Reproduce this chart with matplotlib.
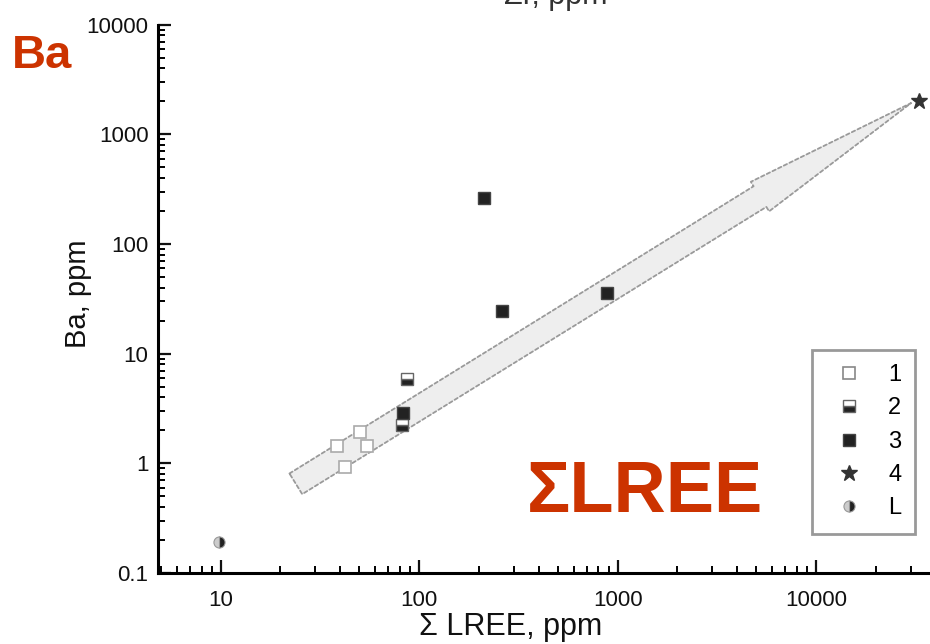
import numpy as np
import matplotlib
matplotlib.use("Agg")
import matplotlib.pyplot as plt
from matplotlib.lines import Line2D
from matplotlib.ticker import FuncFormatter, FixedLocator

plt.rcParams['font.family'] = ['Liberation Sans', 'DejaVu Sans']

# --- data ---
g1_lree = [38.5, 50.2, 54.5, 42.3]
g1_ba = [1.45, 1.95, 1.45, 0.93]

g2_lree = [86.8, 81.7]
g2_ba = [5.9, 2.25]

g3_lree = [82.6, 211, 260, 879]
g3_ba = [2.9, 262, 24.5, 36]

g4_lree = [33000]
g4_ba = [2000]

gL_lree = [9.8]
gL_ba = [0.19]

arrow_tail = (23.9, 0.65)
arrow_tip = (30100, 1930)

x_ticks = [10, 100, 1000, 10000]
y_ticks = [0.1, 1, 10, 100, 1000, 10000]
legend_labels = ['1', '2', '3', '4', 'L']
red = '#CC3300'

fig = plt.figure(figsize=(9.3, 6.44), dpi=100)
ax = fig.add_axes([0.170, 0.1103, 0.921, 0.8514])
ax.set_xscale('log')
ax.set_yscale('log')
ax.set_xlim(4.835, 10 ** 5.0)
ax.set_ylim(0.1, 10000)

# trend arrow
ax.annotate('', xy=arrow_tip, xytext=arrow_tail,
            arrowprops=dict(arrowstyle='simple,head_length=12.8,head_width=2.5,tail_width=1.75',
                            mutation_scale=10, fc='#eeeeee', ec='#9a9a9a',
                            ls=(0, (2, 1.5)), lw=1.3, shrinkA=0, shrinkB=0),
            zorder=1)

ms = 9
ax.plot(g1_lree, g1_ba, 's', ms=ms, mfc='white', mec='#aaaaaa', mew=1.2, zorder=3)
ax.plot(g2_lree, g2_ba, 's', ms=ms, fillstyle='bottom', mfc='#222222',
        mfcalt='white', mec='#666666', mew=1, zorder=3)
ax.plot(g3_lree, g3_ba, 's', ms=ms, mfc='#222222', mec='#444444', mew=1, zorder=3)
ax.plot(g4_lree, g4_ba, '*', ms=12, color='#333333', zorder=3)
ax.plot(gL_lree, gL_ba, 'o', ms=8, fillstyle='right', mfc='#222222',
        mfcalt='#cccccc', mec='#999999', mew=0.8, zorder=3)

# axes styling
for s in ['top', 'right']:
    ax.spines[s].set_visible(False)
for s in ['left', 'bottom']:
    ax.spines[s].set_linewidth(2.2)
ax.xaxis.set_major_locator(FixedLocator(x_ticks))
ax.yaxis.set_major_locator(FixedLocator(y_ticks))
ax.tick_params(which='major', direction='in', length=9.5, width=1.6,
               labelsize=16, colors='#111111')
ax.tick_params(which='minor', direction='in', length=5, width=1.4)
ax.tick_params(axis='x', which='major', pad=12)
ax.tick_params(axis='y', which='major', pad=7)
fmt = FuncFormatter(lambda v, p: f'{v:g}')
ax.xaxis.set_major_formatter(fmt)
ax.yaxis.set_major_formatter(fmt)

ax.set_xlabel('Σ LREE, ppm', fontsize=22, color='#111111')
ax.xaxis.set_label_coords(0.411, -0.072)
ax.set_ylabel('Ba, ppm', fontsize=21, color='#111111')
ax.yaxis.set_label_coords(-0.077, 0.509)

# legend
handles = [
    Line2D([], [], ls='none', marker='s', ms=9, mfc='white', mec='#888888', mew=1.2),
    Line2D([], [], ls='none', marker='s', ms=9, fillstyle='bottom', mfc='#222222',
           mfcalt='white', mec='#666666', mew=1),
    Line2D([], [], ls='none', marker='s', ms=9, mfc='#222222', mec='#444444'),
    Line2D([], [], ls='none', marker='*', ms=12, color='#333333'),
    Line2D([], [], ls='none', marker='o', ms=8, fillstyle='right', mfc='#222222',
           mfcalt='#cccccc', mec='#999999', mew=0.8),
]
leg = ax.legend(handles, legend_labels, loc='upper left',
                bbox_to_anchor=(812 / 930, 1 - 350 / 644),
                bbox_transform=fig.transFigure, borderaxespad=0,
                fontsize=17, handlelength=1.9, handletextpad=0.72,
                labelspacing=0.48, borderpad=0.6, fancybox=False,
                framealpha=1, edgecolor='#999999')
leg.get_frame().set_linewidth(2)

# overlay labels
fig.text(12 / 930, 1 - 68 / 644, 'Ba', fontsize=34, fontweight='bold', color=red,
         va='baseline', ha='left')
fig.text(527 / 930, 1 - 512 / 644, 'ΣLREE', fontsize=52, fontweight='bold', color=red,
         va='baseline', ha='left')
# cut-off label of the panel above (only its lower edge is visible, as in the source)
fig.text(607 / 930, 1 - 4 / 644, 'Zr, ppm', fontsize=22, color='#333333',
         va='baseline', ha='right')

fig.savefig('out.png', dpi=100)
